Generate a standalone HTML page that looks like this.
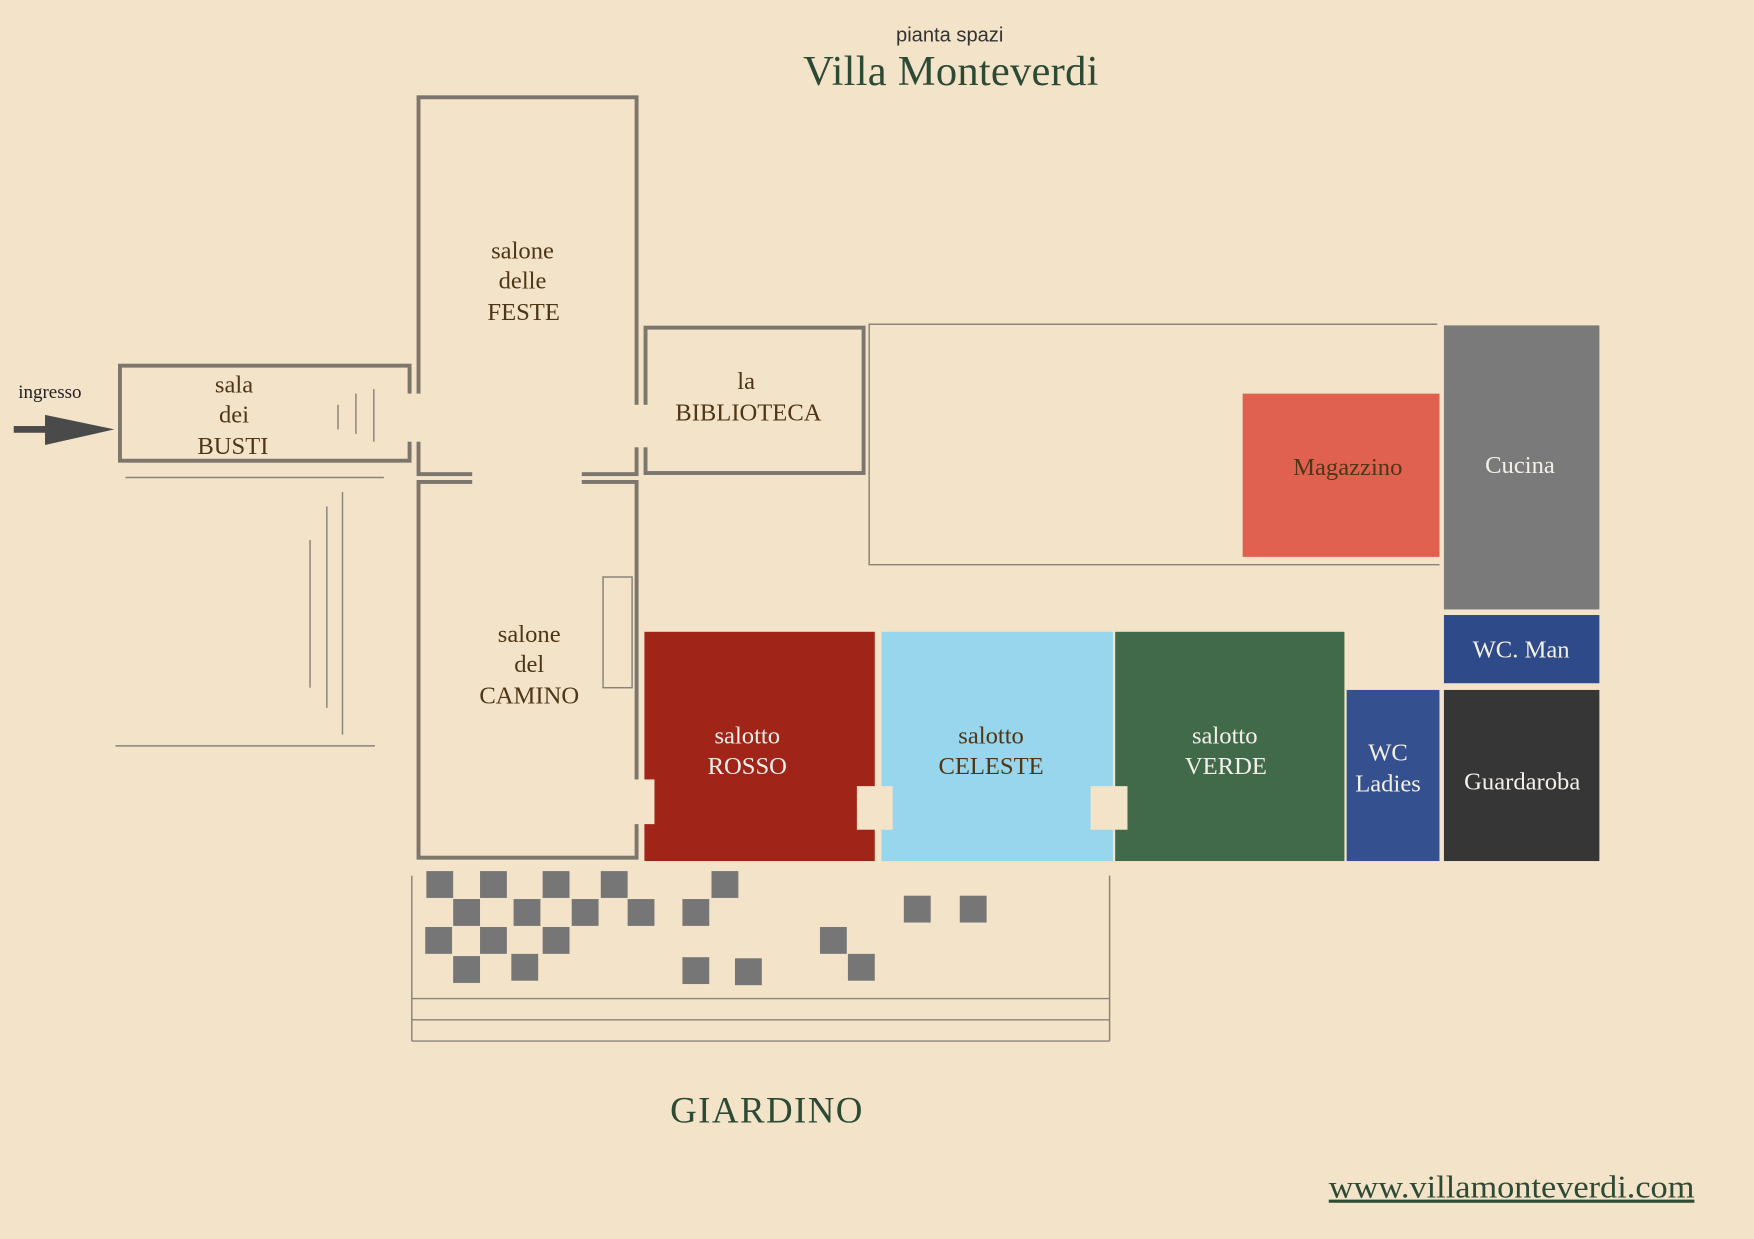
<!DOCTYPE html>
<html><head><meta charset="utf-8"><style>
html,body{margin:0;padding:0;background:#f3e3c8;}
svg{display:block}
.w{fill:none;stroke:#7d766c;stroke-width:3.5}
.t{fill:none;stroke:#8a8378;stroke-width:1.3}
.lb{font-family:"Liberation Serif",serif;font-size:22px;fill:#4e3616;text-anchor:middle}
.lw{font-family:"Liberation Serif",serif;font-size:22px;fill:#f4f0ea;text-anchor:middle}
.sq{fill:#767676}
.bg{fill:#f3e3c8}
</style></head><body>
<svg width="1754" height="1239" viewBox="0 0 1568 1108" xmlns="http://www.w3.org/2000/svg">
<rect width="1568" height="1108" fill="#f3e3c8"/>
<text x="849" y="37" font-family="Liberation Sans,sans-serif" font-size="18" fill="#333" text-anchor="middle">pianta spazi</text>
<text x="850" y="76" font-family="Liberation Serif,serif" font-size="38" fill="#2d4a35" text-anchor="middle" textLength="264">Villa Monteverdi</text>

<rect class="w" x="374" y="87" width="195" height="337"/>
<rect class="w" x="374" y="431" width="195" height="336"/>
<rect class="w" x="577" y="293" width="195" height="130"/>
<rect class="w" x="107" y="327" width="259" height="85"/>
<rect class="bg" x="362" y="352" width="16" height="43"/>
<rect class="bg" x="422" y="418" width="98" height="18"/>
<rect class="bg" x="560" y="362" width="30" height="38"/>
<line class="t" x1="112" y1="427" x2="343" y2="427"/>
<line class="t" x1="277" y1="483" x2="277" y2="615"/>
<line class="t" x1="292" y1="453" x2="292" y2="633"/>
<line class="t" x1="306" y1="440" x2="306" y2="657"/>
<line class="t" x1="103" y1="667" x2="335" y2="667"/>
<line class="t" x1="302" y1="362" x2="302" y2="384"/>
<line class="t" x1="318" y1="352" x2="318" y2="388"/>
<line class="t" x1="334" y1="348" x2="334" y2="395"/>
<rect class="t" x="539" y="516" width="26" height="99"/>
<polyline class="t" points="1285,290 777,290 777,505 1287,505"/>
<rect x="1111" y="352" width="176" height="146" fill="#e06150"/>
<rect x="1291" y="291" width="139" height="254" fill="#7a7a7a"/>
<rect x="1291" y="550" width="139" height="61" fill="#2f4a88"/>
<rect x="1291" y="617" width="139" height="153" fill="#363636"/>
<rect x="1204" y="617" width="83" height="153" fill="#35508e"/>
<rect x="576" y="565" width="206" height="205" fill="#a12419"/>
<rect x="788" y="565" width="207" height="205" fill="#97d6ec"/>
<rect x="997" y="565" width="205" height="205" fill="#406a49"/>
<rect class="bg" x="560" y="697" width="25" height="40"/>
<rect class="bg" x="766" y="703" width="32" height="39"/>
<rect class="bg" x="975" y="703" width="33" height="39"/>
<text class="lb" x="467" y="231">salone</text><text class="lb" x="467" y="258">delle</text><text class="lb" x="468" y="286">FESTE</text>
<text class="lb" x="473" y="574">salone</text><text class="lb" x="473" y="601">del</text><text class="lb" x="473" y="629">CAMINO</text>
<text class="lb" x="667" y="348">la</text><text class="lb" x="669" y="376">BIBLIOTECA</text>
<text class="lb" x="209" y="351">sala</text><text class="lb" x="209" y="378">dei</text><text class="lb" x="208" y="406">BUSTI</text>
<text class="lb" x="1205" y="425" fill="#4a1a10">Magazzino</text>
<text class="lw" x="1359" y="423">Cucina</text>
<text class="lw" x="1360" y="588">WC. Man</text>
<text class="lw" x="1361" y="706" font-size="19">Guardaroba</text>
<text class="lw" x="1241" y="680">WC</text><text class="lw" x="1241" y="708">Ladies</text>
<text class="lw" x="668" y="665">salotto</text><text class="lw" x="668" y="692">ROSSO</text>
<text class="lb" x="886" y="665" fill="#2a2a2a">salotto</text><text class="lb" x="886" y="692" fill="#2a2a2a">CELESTE</text>
<text class="lw" x="1095" y="665">salotto</text><text class="lw" x="1096" y="692">VERDE</text>
<text x="16" y="356" font-family="Liberation Serif,serif" font-size="17" fill="#222">ingresso</text>
<rect x="12" y="381" width="32" height="6" fill="#4a4a4a"/>
<polygon points="40,371 102,384 40,398" fill="#4a4a4a"/>
<g class="sq">
<rect x="381" y="779" width="24" height="24"/><rect x="429" y="779" width="24" height="24"/><rect x="485" y="779" width="24" height="24"/><rect x="537" y="779" width="24" height="24"/><rect x="636" y="779" width="24" height="24"/>
<rect x="405" y="804" width="24" height="24"/><rect x="459" y="804" width="24" height="24"/><rect x="511" y="804" width="24" height="24"/><rect x="561" y="804" width="24" height="24"/><rect x="610" y="804" width="24" height="24"/>
<rect x="808" y="801" width="24" height="24"/><rect x="858" y="801" width="24" height="24"/>
<rect x="380" y="829" width="24" height="24"/><rect x="429" y="829" width="24" height="24"/><rect x="485" y="829" width="24" height="24"/><rect x="733" y="829" width="24" height="24"/>
<rect x="405" y="855" width="24" height="24"/><rect x="457" y="853" width="24" height="24"/><rect x="610" y="856" width="24" height="24"/><rect x="657" y="857" width="24" height="24"/><rect x="758" y="853" width="24" height="24"/>
</g>
<line class="t" x1="368" y1="783" x2="368" y2="931"/>
<line class="t" x1="992" y1="783" x2="992" y2="931"/>
<line class="t" x1="368" y1="893" x2="992" y2="893"/>
<line class="t" x1="368" y1="912" x2="992" y2="912"/>
<line class="t" x1="368" y1="931" x2="992" y2="931"/>
<text x="685" y="1004" font-family="Liberation Serif,serif" font-size="33" fill="#2d4a35" text-anchor="middle" textLength="172">GIARDINO</text>
<text x="1188" y="1071" font-family="Liberation Serif,serif" font-size="28" fill="#2d4a35" text-decoration="underline" textLength="327" lengthAdjust="spacingAndGlyphs">www.villamonteverdi.com</text>
</svg>
</body></html>
